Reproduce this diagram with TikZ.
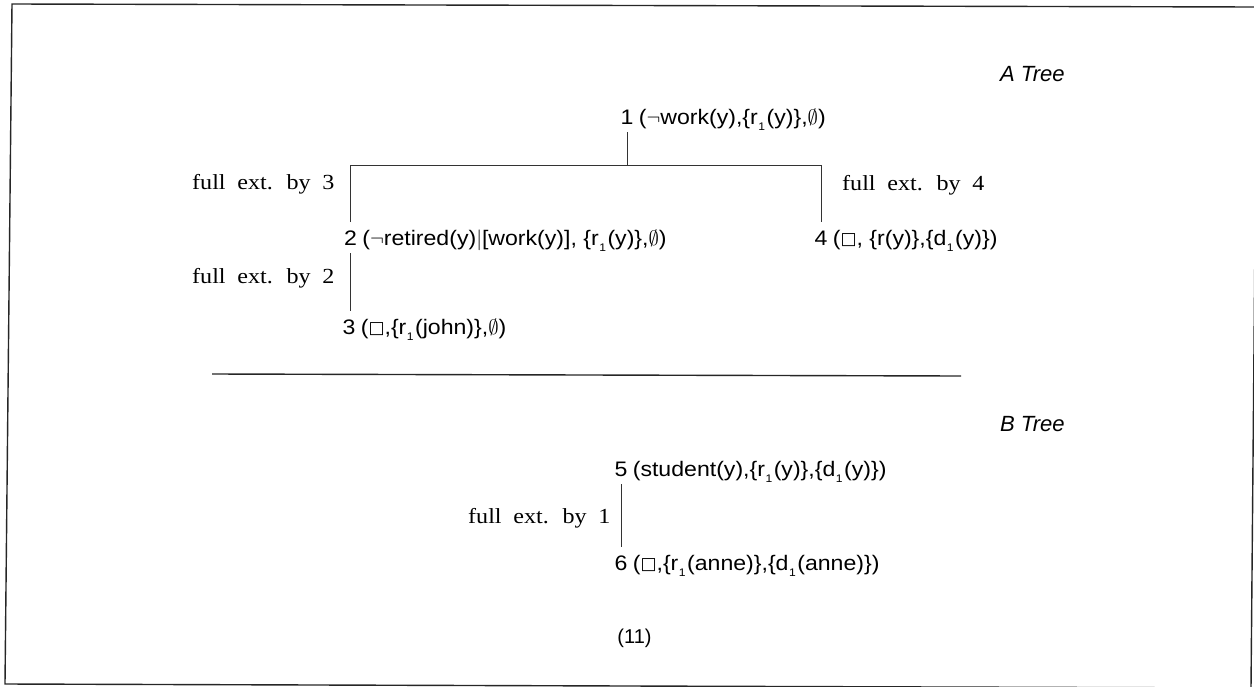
\documentclass[tikz,border=0pt]{standalone}
\usepackage{fontspec}
\setmainfont{Liberation Serif}
\setsansfont{Liberation Sans}
\newfontfamily\tuplefont[FakeStretch=1.1]{Liberation Sans}
\newfontfamily\titlefont{Liberation Sans}
\newfontfamily\extfont[FakeStretch=1.12,WordSpace=1.95]{Liberation Serif}
\newfontfamily\boxfont{DejaVu Sans}

% subscript index, box, negation and empty set used in the tuples
\newcommand{\idx}[1]{\kern0.5pt\raisebox{-0.3em}{\fontsize{11}{11}\selectfont #1}\kern1.5pt}
\newcommand{\bx}{{\boxfont\fontsize{17}{17}\selectfont\raisebox{0.05em}{□}}}
\newcommand{\es}{\ensuremath{\emptyset}}
\newcommand{\ngt}{\ensuremath{\neg}}

\begin{document}
\begin{tikzpicture}[x=1pt,y=-1pt,
  num/.style={font=\tuplefont\fontsize{21}{25}\selectfont, inner xsep=0pt, inner ysep=8pt, anchor=base},
  tuple/.style={font=\tuplefont\fontsize{21}{25}\selectfont, inner sep=0pt, anchor=base west},
  extlabel/.style={font=\extfont\fontsize{21.5}{25}\selectfont, inner sep=0pt, anchor=base west},
  treetitle/.style={font=\titlefont\itshape\fontsize{22}{26}\selectfont, inner sep=0pt, anchor=base west},
  edge/.style={line width=0.8pt, draw=black!80},
  rule/.style={line width=1.4pt, draw=black!85}]
\useasboundingbox (0,0) rectangle (1254,686);

% outer frame
\draw[rule] (12,4) -- (1257,7) -- (1251,688) -- (5,684) -- cycle;

% A tree
\node[treetitle] (ta) at (1000,81) {A Tree};

\node[num] (n1) at (627,124) {1};
\node[tuple] (t1) at ([xshift=5pt]n1.base east) {(\ngt work(y),\{r\idx{1}(y)\},\es)};

\node[num] (n2) at (350.5,245) {2};
\node[tuple] (t2) at ([xshift=5pt]n2.base east) {(\ngt retired(y)$|$[work(y)], \{r\idx{1}(y)\},\es)};

\node[num] (n4) at (821,245) {4};
\node[tuple] (t4) at ([xshift=5pt]n4.base east) {(\bx, \{r(y)\},\{d\idx{1}(y)\})};

\node[num] (n3) at (349,334) {3};
\node[tuple] (t3) at ([xshift=5pt]n3.base east) {(\bx,\{r\idx{1}(john)\},\es)};

\coordinate (bar) at (0,165);
\draw[edge] (n1.south) -- (n1.south |- bar);
\draw[edge] (n2.north) -- (n2.north |- bar) -- (n4.north |- bar) -- (n4.north);
\draw[edge] (n2.south) -- (n2.south |- n3.north);

\node[extlabel] (e3) at (192,189) {full ext. by 3};
\node[extlabel] (e2) at (192,283) {full ext. by 2};
\node[extlabel] (e4) at (842,190) {full ext. by 4};

% separator between the two trees
\draw[rule] (212,374) -- (961,376);

% B tree
\node[treetitle] (tb) at (1000,431) {B Tree};

\node[num] (n5) at (621,476) {5};
\node[tuple] (t5) at ([xshift=5pt]n5.base east) {(student(y),\{r\idx{1}(y)\},\{d\idx{1}(y)\})};

\node[num] (n6) at (621,570) {6};
\node[tuple] (t6) at ([xshift=5pt]n6.base east) {(\bx,\{r\idx{1}(anne)\},\{d\idx{1}(anne)\})};

\draw[edge] (n5.south) -- (n5.south |- n6.north);

\node[extlabel] (e1) at (468,523) {full ext. by 1};

\node[font=\titlefont\fontsize{20}{24}\selectfont, inner sep=0pt, anchor=base] (eq) at (634.5,643) {(11)};
\end{tikzpicture}
\end{document}
